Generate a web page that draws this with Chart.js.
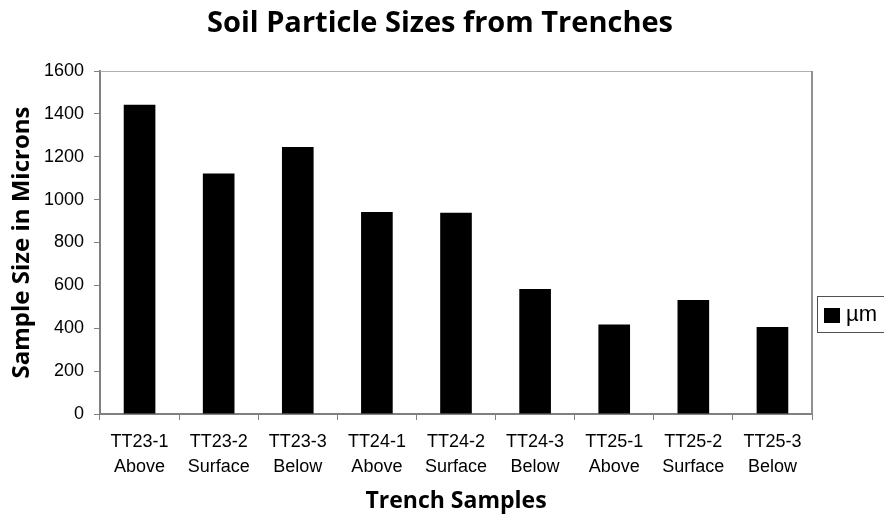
<!DOCTYPE html>
<html>
<head>
<meta charset="utf-8">
<script src="https://cdn.jsdelivr.net/npm/chart.js@4"></script>
<style>
  html, body { margin: 0; padding: 0; background: #fff; }
  #wrap { width: 884px; height: 514px; position: relative; }
</style>
</head>
<body>
<div id="wrap"><canvas id="c" width="884" height="514"></canvas></div>
<script>
const sampleIds = ['TT23-1', 'TT23-2', 'TT23-3', 'TT24-1', 'TT24-2', 'TT24-3', 'TT25-1', 'TT25-2', 'TT25-3'];
const positions = ['Above', 'Surface', 'Below', 'Above', 'Surface', 'Below', 'Above', 'Surface', 'Below'];
const micronValues = [1443, 1122, 1246, 942, 939, 583, 417, 532, 406];
const yTickValues = [0, 200, 400, 600, 800, 1000, 1200, 1400, 1600];
const seriesName = 'µm';
const chartTitle = 'Soil Particle Sizes from Trenches';

const labels = sampleIds.map((id, i) => [id, positions[i]]);

const decorations = {
  id: 'decorations',
  afterDraw(chart) {
    const ctx = chart.ctx;
    const ca = chart.chartArea;
    ctx.save();
    // title centred on the whole canvas
    ctx.fillStyle = '#000';
    ctx.font = 'bold 29px "Open Sans", sans-serif';
    ctx.textAlign = 'center';
    ctx.textBaseline = 'middle';
    ctx.fillText(chartTitle, chart.width / 2 - 2, 24);
    // plot border (top and right)
    ctx.strokeStyle = '#b0b0b0';
    ctx.lineWidth = 1;
    ctx.beginPath();
    ctx.moveTo(ca.left, ca.top + 0.5);
    ctx.lineTo(ca.right, ca.top + 0.5);
    ctx.stroke();
    ctx.strokeStyle = '#909090';
    ctx.lineWidth = 2;
    ctx.beginPath();
    ctx.moveTo(ca.right, ca.top);
    ctx.lineTo(ca.right, ca.bottom);
    ctx.stroke();
    // legend box
    const lx = ca.right + 5, ly = 296, lh = 36;
    ctx.strokeStyle = '#505050';
    ctx.lineWidth = 1;
    ctx.strokeRect(lx + 0.5, ly + 0.5, 80, lh);
    ctx.fillStyle = chart.data.datasets[0].backgroundColor;
    ctx.fillRect(lx + 7, ly + 12, 16, 15);
    ctx.fillStyle = '#000';
    ctx.font = '22px "Liberation Sans", Arial, sans-serif';
    ctx.textBaseline = 'middle';
    ctx.textAlign = 'left';
    ctx.fillText(chart.data.datasets[0].label, lx + 29, ly + 19);
    ctx.restore();
  }
};

new Chart(document.getElementById('c'), {
  type: 'bar',
  data: {
    labels: labels,
    datasets: [{
      label: seriesName,
      data: micronValues,
      backgroundColor: '#000000',
      borderWidth: 0,
      barPercentage: 0.8,
      categoryPercentage: 0.5
    }]
  },
  options: {
    responsive: false,
    animation: false,
    devicePixelRatio: 1,
    layout: { padding: { left: 0, right: 72, top: 71, bottom: 0 } },
    plugins: {
      legend: { display: false },
      tooltip: { enabled: false },
      title: { display: false }
    },
    scales: {
      x: {
        grid: { display: true, drawOnChartArea: false, drawTicks: true, tickLength: 6, color: '#808080', lineWidth: 1, offset: true },
        border: { display: true, color: '#808080', width: 2 },
        ticks: {
          color: '#000',
          font: { family: '"Liberation Sans", Arial, sans-serif', size: 18, lineHeight: 1.38 },
          padding: 10,
          maxRotation: 0,
          autoSkip: false
        },
        title: {
          display: true,
          text: 'Trench Samples',
          color: '#000',
          font: { family: '"Open Sans", sans-serif', size: 23, weight: 'bold', lineHeight: 1.1 },
          padding: { top: 0, bottom: 0 }
        },
        afterFit(scale) { scale.height = 100; }
      },
      y: {
        min: 0,
        max: 1600,
        afterBuildTicks(scale) { scale.ticks = yTickValues.map(v => ({ value: v })); },
        grid: { display: true, drawOnChartArea: false, drawTicks: true, tickLength: 6, color: '#808080', lineWidth: 1 },
        border: { display: true, color: '#808080', width: 2 },
        ticks: {
          color: '#000',
          font: { family: '"Liberation Sans", Arial, sans-serif', size: 18 },
          padding: 10,
          callback: (v) => String(v)
        },
        title: {
          display: true,
          text: 'Sample Size in Microns',
          color: '#000',
          font: { family: '"Open Sans", sans-serif', size: 24, weight: 'bold', lineHeight: 1.2 },
          padding: { top: 8, bottom: 0 }
        },
        afterFit(scale) { scale.width = 100; }
      }
    }
  },
  plugins: [decorations]
});
</script>
</body>
</html>
